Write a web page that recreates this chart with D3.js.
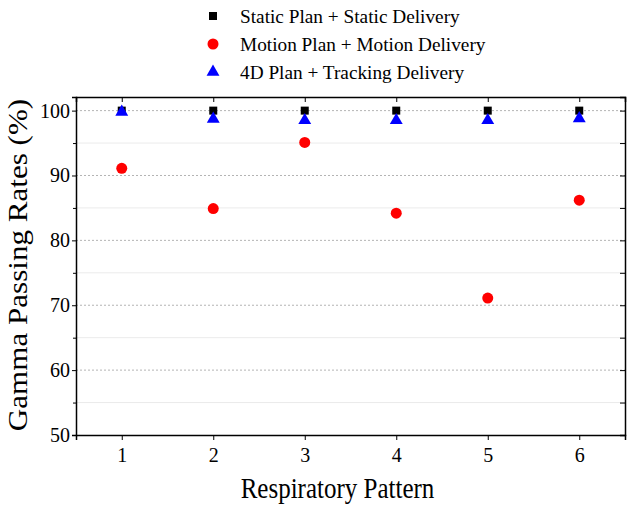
<!DOCTYPE html>
<html>
<head>
<meta charset="utf-8">
<script src="https://cdn.jsdelivr.net/npm/d3@7"></script>
<style>
  body { margin: 0; background: #fff; }
  text { font-family: "Liberation Serif", "Times New Roman", serif; fill: #000; }
</style>
</head>
<body>
<svg id="chart" width="632" height="511"></svg>
<script>
var patterns = [1, 2, 3, 4, 5, 6];
var staticRates = [100, 100, 100, 100, 100, 100];
var motionRates = [91.1, 84.9, 95.1, 84.2, 71.1, 86.2];
var trackingRates = [99.8, 98.7, 98.5, 98.5, 98.5, 98.8];
var seriesNames = ["Static Plan + Static Delivery", "Motion Plan + Motion Delivery", "4D Plan + Tracking Delivery"];
var yMajor = [50, 60, 70, 80, 90, 100];
var yMinor = [55, 65, 75, 85, 95];

window.addEventListener( "load", makeChart );
function makeChart() {
    var svg = d3.select( "#chart" );
    var x0 = 76, x1 = 625, y0 = 97, y1 = 435;

    var scX = d3.scaleLinear().domain( [0.5, 6.5] ).range( [x0, x1] );
    var scY = d3.scaleLinear().domain( [50, 102.1] ).range( [y1, y0] );

    var series = [
        { name: seriesNames[0], values: staticRates, shape: d3.symbolSquare, size: 64, color: "#000" },
        { name: seriesNames[1], values: motionRates, shape: d3.symbolCircle, size: 95, color: "#ff0000" },
        { name: seriesNames[2], values: trackingRates, shape: d3.symbolTriangle, size: 72, color: "#0000ff" }
    ];

    // grid
    svg.append( "g" ).selectAll( "line" ).data( yMinor ).enter().append( "line" )
        .attr( "x1", x0 ).attr( "x2", x1 )
        .attr( "y1", scY ).attr( "y2", scY )
        .attr( "stroke", "#ebebeb" ).attr( "stroke-width", 1 );
    svg.append( "g" ).selectAll( "line" ).data( yMajor.slice(1) ).enter().append( "line" )
        .attr( "x1", x0 ).attr( "x2", x1 )
        .attr( "y1", scY ).attr( "y2", scY )
        .attr( "stroke", "#b4b4b4" ).attr( "stroke-dasharray", "2,2" );

    // axes
    svg.append( "g" ).attr( "transform", "translate(0," + y1 + ")" )
        .call( d3.axisBottom( scX ).tickValues( patterns ).tickFormat( d3.format( "d" ) )
               .tickSizeOuter( 0 ).tickSize( 5 ).tickPadding( 8 ) );
    svg.append( "g" ).attr( "transform", "translate(0," + y0 + ")" )
        .call( d3.axisTop( scX ).tickValues( patterns ).tickFormat( "" )
               .tickSizeOuter( 0 ).tickSize( -5 ) );
    svg.append( "g" ).attr( "transform", "translate(" + x0 + ",0)" )
        .call( d3.axisLeft( scY ).tickValues( yMajor ).tickFormat( d3.format( "d" ) )
               .tickSizeOuter( 0 ).tickSize( 4 ).tickPadding( 2 ) );
    svg.append( "g" ).attr( "transform", "translate(" + x0 + ",0)" )
        .call( d3.axisLeft( scY ).tickValues( yMinor ).tickFormat( "" ).tickSizeOuter( 0 ).tickSize( 3 ) )
        .select( ".domain" ).remove();
    svg.append( "g" ).attr( "transform", "translate(" + x1 + ",0)" )
        .call( d3.axisRight( scY ).tickValues( yMajor.concat( yMinor ) ).tickFormat( "" )
               .tickSizeOuter( 0 ).tickSize( -5 ) );
    svg.selectAll( ".domain" ).attr( "stroke", "#000" ).attr( "stroke-width", 1.5 );
    svg.selectAll( ".tick line" ).attr( "stroke", "#000" );
    svg.selectAll( ".tick text" ).attr( "font-size", 20 )
        .attr( "font-family", "Liberation Serif" );

    // points
    series.forEach( function( s ) {
        svg.append( "g" ).selectAll( "path" ).data( s.values ).enter().append( "path" )
            .attr( "d", d3.symbol().type( s.shape ).size( s.size ) )
            .attr( "transform", (d, i) => "translate(" + scX( patterns[i] ) + "," + scY( d ) + ")" )
            .attr( "fill", s.color );
    } );

    // titles
    svg.append( "text" )
        .attr( "transform", "translate(" + ( ( x0 + x1 ) / 2 - 13 ) + ",498) scale(1,1.15)" )
        .attr( "text-anchor", "middle" ).attr( "font-size", 25 )
        .text( "Respiratory Pattern" );
    svg.append( "text" )
        .attr( "transform", "translate(27,265) rotate(-90) scale(1.11,1)" )
        .attr( "text-anchor", "middle" ).attr( "font-size", 28 )
        .text( "Gamma Passing Rates (%)" );

    // legend
    var lg = svg.append( "g" ).selectAll( "g" ).data( series ).enter().append( "g" )
        .attr( "transform", (d, i) => "translate(213," + ( 16 + i * 28 ) + ")" );
    lg.append( "path" )
        .attr( "d", d => d3.symbol().type( d.shape ).size( d.size )() )
        .attr( "fill", d => d.color );
    lg.append( "text" ).attr( "x", 27 ).attr( "dy", "0.35em" )
        .attr( "font-size", 19.3 ).text( d => d.name );
}
</script>
</body>
</html>
